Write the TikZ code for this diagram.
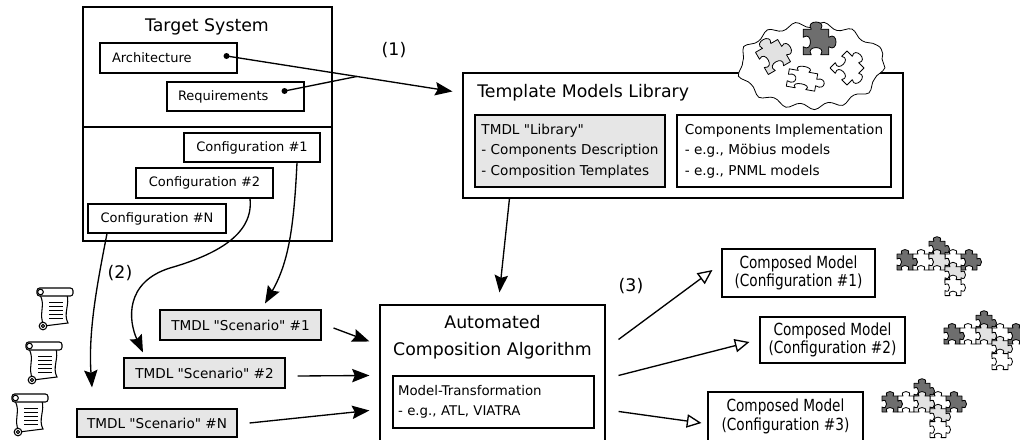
\documentclass[tikz,border=0pt]{standalone}
\usepackage{fontspec}
\setmainfont{DejaVu Sans}[Ligatures=TeXOff]
\newfontfamily\narrowfont{DejaVu Sans}[FakeStretch=0.82, Ligatures=TeXOff]
\usetikzlibrary{arrows.meta,calc,decorations.pathmorphing}

\definecolor{boxgray}{HTML}{E6E6E6}
\definecolor{piecedark}{HTML}{6E6E6E}
\definecolor{piecelight}{HTML}{E2E2E2}

\newdimen\pxu \pxu=0.75pt
\newcommand\bigtxt{\fontsize{13}{20}\selectfont}
\newcommand\smalltxt{\fontsize{9.75}{12}\selectfont}
\newcommand\tmdltxt{\fontsize{10.2}{15.3}\selectfont}
\newcommand\mttxt{\fontsize{10}{15}\selectfont}
\newcommand\composedtxt{\narrowfont\fontsize{12.5}{13.8}\selectfont}

\tikzset{
  box/.style={draw, line width=0.8pt, inner sep=0pt},
  graybox/.style={box, fill=boxgray},
  flow/.style={line width=1pt, -{Stealth[length=13pt, width=10pt, inset=2pt]}},
  result/.style={line width=1pt, -{Triangle[open, length=11pt, width=10pt]}},
  piece/.pic={
    \draw[pic actions, line width=0.6pt, line join=round]
      (-8,-8) -- (-3,-8) .. controls (-7,-14) and (7,-14) .. (3,-8) -- (8,-8)
      -- (8,-3) .. controls (14,-7) and (14,7) .. (8,3) -- (8,8)
      -- (3,8) .. controls (7,2) and (-7,2) .. (-3,8) -- (-8,8)
      -- (-8,3) .. controls (-2,7) and (-2,-7) .. (-8,-3) -- cycle;
  },
  puzzle/.pic={
    \foreach \a/\b/\col in {-32/0/piecedark, -16/0/white, 32/0/piecedark, 16/0/white,
                            0/-16/piecedark, 0/0/piecelight, 16/16/piecelight, 16/32/white}
      \pic[fill=\col] at (\a,\b) {piece};
  },
  scroll/.pic={
    \draw[line width=0.8pt, fill=white] (-13,-13) .. controls (-7,-3) and (-15,6) .. (-9,18)
      -- (15,15) .. controls (10,6) and (17,-4) .. (14,-13) -- cycle;
    \draw[line width=0.8pt, fill=white, rounded corners=2pt] (-16,-20) rectangle (20,-12);
    \draw[line width=0.8pt] (-12.5,-16) circle (2.8);
    \draw[line width=0.8pt, fill=white] (-10,18) circle (3.8);
    \draw[line width=0.8pt] (-10,18) circle (1.6);
    \foreach \ly in {-6,-2,2,6,10}
      \draw[line width=0.7pt] (-4,\ly) -- (10,\ly);
  }
}

\begin{document}
\begin{tikzpicture}[x=0.75pt, y=-0.75pt]
\useasboundingbox (0,0) rectangle (1020,439);

% target system
\node[box, minimum width=249\pxu, minimum height=234\pxu] (tgt) at (207.5,124) {};
\coordinate (split) at (0,127);
\draw[line width=0.8pt] (tgt.west |- split) -- (tgt.east |- split);
\node[font=\bigtxt, anchor=base, inner sep=0pt] (tgttitle) at (207,31.5) {Target System};
\node[box, font=\smalltxt, align=left, text width=113\pxu, inner xsep=12\pxu, minimum height=30\pxu] (arch) at (168.5,58) {Architecture};
\node[box, font=\smalltxt, align=left, text width=115\pxu, inner xsep=11\pxu, minimum height=29\pxu] (req) at (235.5,96.5) {Requirements};
\node[box, font=\smalltxt, minimum width=136\pxu, minimum height=29\pxu] (conf1) at (252,147.5) {Configuration \#1};
\node[box, font=\smalltxt, minimum width=137\pxu, minimum height=30\pxu] (conf2) at (204.5,183) {Configuration \#2};
\node[box, font=\smalltxt, minimum width=138\pxu, minimum height=29\pxu] (confN) at (157,218.5) {Configuration \#N};

% template models library
\node[box, minimum width=440\pxu, minimum height=125\pxu] (tml) at (683,135.5) {};
\node[font=\bigtxt, anchor=base west, inner sep=0pt] (tmltitle) at (477,97) {Template Models Library};
\node[graybox, font=\tmdltxt, align=left, minimum width=190\pxu, minimum height=72\pxu] (tmdllib) at (570,151)
  {TMDL "Library"\\- Components Description\\- Composition Templates};
\node[box, font=\tmdltxt, align=left, minimum width=214\pxu, minimum height=72\pxu] (compimpl) at (784,151)
  {Components Implementation\\- e.g., Möbius models\\- e.g., PNML models};

% cloud of pieces
\draw[line width=0.6pt, fill=white, decorate, decoration={snake, amplitude=2.2pt, segment length=21pt}]
  (811,59) ellipse (71 and 41);
\pic[fill=piecelight, rotate=30, scale=1.6] at (773,57) {piece};
\pic[fill=piecedark, scale=1.6] at (816,42) {piece};
\pic[fill=white, rotate=-45, scale=1.5] at (847,68) {piece};
\pic[fill=white, rotate=-10, xscale=1.8, yscale=1.1] at (802,80) {piece};

% step (1)
\coordinate (adot) at ([shift={(-11,-2)}]arch.east);
\coordinate (rdot) at ([shift={(-20,-5.5)}]req.east);
\coordinate (tip1) at ([shift={(-10,19)}]tml.north west);
\fill (adot) circle (3);
\fill (rdot) circle (3);
\draw[flow] (adot) -- (tip1);
\draw[line width=1pt] (rdot) -- ($(adot)!0.577!(tip1)$);
\node[font=\bigtxt] (lbl1) at (394,50) {(1)};

% scenarios
\node[graybox, font=\tmdltxt, minimum width=161\pxu, minimum height=30\pxu] (scen1) at (240.5,325) {TMDL "Scenario" \#1};
\node[graybox, font=\tmdltxt, minimum width=161\pxu, minimum height=30\pxu] (scen2) at (204.5,373) {TMDL "Scenario" \#2};
\node[graybox, font=\tmdltxt, minimum width=160\pxu, minimum height=28\pxu] (scenN) at (157,423) {TMDL "Scenario" \#N};
\pic at (53,308) {scroll};
\pic at (42,362) {scroll};
\pic at (28,414) {scroll};

% step (2)
\draw[flow] ([shift={(45,0)}]conf1.south) .. controls (294,225) and (289,262) .. ([shift={(24.5,-6)}]scen1.north);
\draw[flow] ([shift={(45.5,0)}]conf2.south) .. controls (254,235) and (215,255) .. (170,268)
  .. controls (125,282) and (128,320) .. ([shift={(-61.5,-5)}]scen2.north);
\draw[flow] ([shift={(-50,0)}]confN.south) .. controls (98,280) and (88,330) .. ([shift={(-65,-21)}]scenN.north);
\node[font=\bigtxt] (lbl2) at (120,273) {(2)};

% composition
\node[box, minimum width=225\pxu, minimum height=136\pxu] (auto) at (492.5,373) {};
\node[font=\bigtxt, align=center, anchor=north, inner sep=0pt] (autotitle) at (492.5,315) {Automated\\Composition Algorithm};
\node[box, font=\mttxt, align=left, text width=191\pxu, inner xsep=5\pxu, minimum height=52\pxu] (mt) at (493.5,402)
  {Model-Transformation\\- e.g., ATL, VIATRA};
\draw[flow] ([shift={(47,0)}]tml.south west) -- ([shift={(120,-12)}]auto.north west);
\draw[flow] ([shift={(12,3)}]scen1.east) -- ([shift={(-10,37)}]auto.north west);
\draw[flow] ([shift={(12,3)}]scen2.east) -- ([shift={(-10,71)}]auto.north west);
\draw[flow] ([shift={(12,0)}]scenN.east) -- ([shift={(-10,106)}]auto.north west);

% step (3)
\node[box, font=\composedtxt, align=center, minimum width=153\pxu, minimum height=48\pxu] (comp1) at (798.5,273) {Composed Model\\(Configuration \#1)};
\node[box, font=\composedtxt, align=center, minimum width=145\pxu, minimum height=46\pxu] (comp2) at (832.5,340) {Composed Model\\(Configuration \#2)};
\node[box, font=\composedtxt, align=center, minimum width=155\pxu, minimum height=49\pxu] (comp3) at (785.5,416.5) {Composed Model\\(Configuration \#3)};
\draw[result] ([shift={(13,35)}]auto.north east) -- ([shift={(-9,-3)}]comp1.west);
\draw[result] ([shift={(13,71)}]auto.north east) -- ([shift={(-10,2)}]comp2.west);
\draw[result] ([shift={(13,107)}]auto.north east) -- ([shift={(-6,6.5)}]comp3.west);
\node[font=\bigtxt] (lbl3) at (631,286) {(3)};
\pic[yscale=0.8] at (937,262) {puzzle};
\pic[yscale=0.8] at (984,336) {puzzle};
\pic[yscale=0.8] at (922,404) {puzzle};
\end{tikzpicture}
\end{document}
